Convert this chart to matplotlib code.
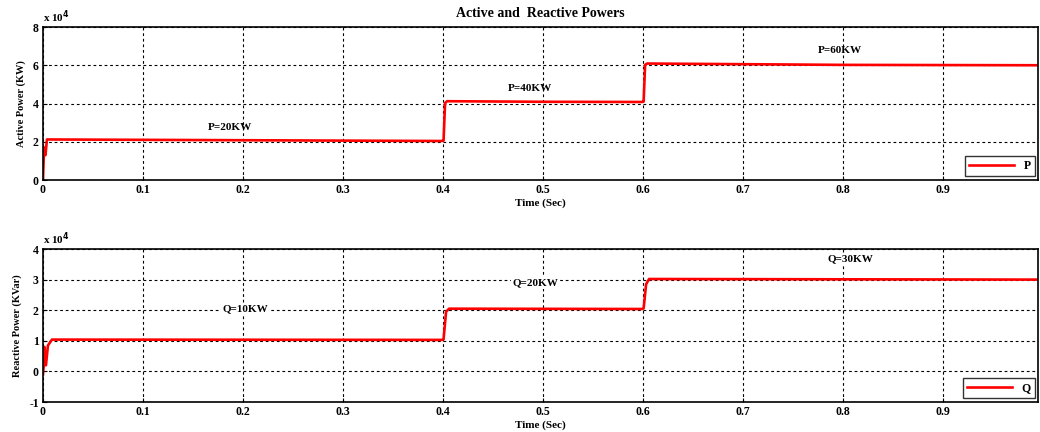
import matplotlib
matplotlib.use("Agg")
import matplotlib.pyplot as plt
from matplotlib.ticker import FuncFormatter, MultipleLocator

plt.rcParams['font.family'] = ['Liberation Serif', 'DejaVu Serif']
plt.rcParams['font.weight'] = 'bold'

# Active power P (W) breakpoints
t_p = [0.0, 0.0008, 0.0015, 0.0025, 0.004, 0.399, 0.4005, 0.402, 0.404, 0.5, 0.599, 0.6005, 0.602, 0.604, 0.8, 0.995]
p_vals = [0, 12000, 17000, 13000, 21200, 20400, 20600, 40200, 41200, 40900, 40800, 41000, 60200, 60900, 60200, 60000]

# Reactive power Q (Var) breakpoints
t_q = [0.0, 0.0008, 0.0015, 0.003, 0.005, 0.009, 0.399, 0.4005, 0.403, 0.406, 0.599, 0.6005, 0.603, 0.606, 0.995]
q_vals = [-1000, 2000, 8000, 2000, 8500, 10400, 10300, 10500, 19500, 20500, 20400, 20600, 28500, 30200, 30000]

p_labels = [("P=20KW", 0.187, 27700), ("P=40KW", 0.487, 48100), ("P=60KW", 0.797, 67500)]
q_labels = [("Q=10KW", 0.202, 20400), ("Q=20KW", 0.492, 28900), ("Q=30KW", 0.807, 36700)]

fig = plt.figure(figsize=(10.4, 4.32), dpi=100)
ax1 = fig.add_axes([0.0413, 0.5833, 0.957, 0.3542])
ax2 = fig.add_axes([0.0413, 0.0694, 0.957, 0.3542])

fmt = FuncFormatter(lambda v, pos: f"{v/1e4:g}")

def style(ax, ylim, ystep, ylabel):
    ax.set_xlim(0, 0.995)
    ax.set_ylim(*ylim)
    ax.xaxis.set_major_locator(MultipleLocator(0.1))
    ax.yaxis.set_major_locator(MultipleLocator(ystep))
    ax.yaxis.set_major_formatter(fmt)
    ax.xaxis.set_major_formatter(FuncFormatter(lambda v, pos: "0" if abs(v) < 1e-9 else f"{v:.1f}"))
    ax.grid(True, color='black', linestyle=(0, (2.5, 2.5)), linewidth=0.8)
    ax.tick_params(labelsize=8.5, length=3, direction='in', pad=3)
    for s in ax.spines.values():
        s.set_linewidth(1.2)
    ax.set_xlabel("Time (Sec)", fontsize=8, fontweight='bold', labelpad=1.5)
    ax.set_ylabel(ylabel, fontsize=7.5, fontweight='bold', labelpad=5)
    ax.text(0.0, 1.015, r"x 10$^{4}$", transform=ax.transAxes, fontsize=8, fontweight='bold', ha='left', va='bottom')

ax1.plot(t_p, p_vals, color='#ff0000', linewidth=1.9, label='P')
style(ax1, (0, 80000), 20000, "Active Power (KW)")
for txt, x, y in p_labels:
    ax1.text(x, y, txt, ha='center', va='center', fontsize=8, fontweight='bold')
leg1 = ax1.legend(loc='lower right', fontsize=8.5, frameon=True, fancybox=False, edgecolor='black',
                  handlelength=3.8, borderaxespad=0.3, borderpad=0.35)
leg1.get_frame().set_linewidth(1.0)
ax1.set_title("Active and  Reactive Powers", fontsize=10, fontweight='bold', pad=7)

ax2.plot(t_q, q_vals, color='#ff0000', linewidth=1.9, label='Q')
style(ax2, (-10000, 40000), 10000, "Reactive Power (KVar)")
for txt, x, y in q_labels:
    ax2.text(x, y, txt, ha='center', va='center', fontsize=8, fontweight='bold',
             bbox=dict(facecolor='white', edgecolor='none', pad=1))
leg2 = ax2.legend(loc='lower right', fontsize=8.5, frameon=True, fancybox=False, edgecolor='black',
                  handlelength=3.8, borderaxespad=0.3, borderpad=0.35)
leg2.get_frame().set_linewidth(1.0)

fig.savefig("out.png", dpi=100)
